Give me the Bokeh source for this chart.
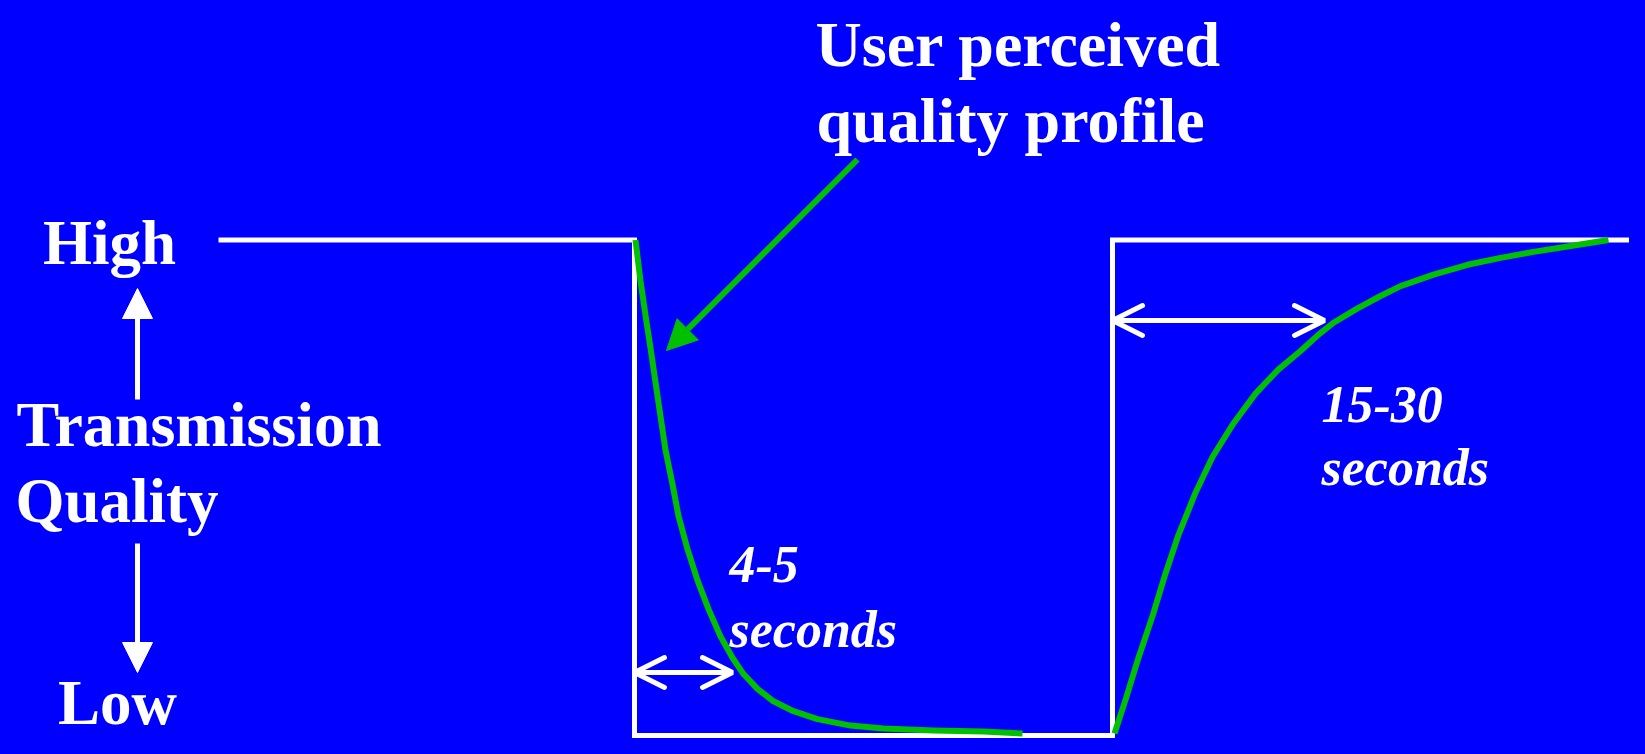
from bokeh.plotting import figure
from bokeh.models import Range1d, Label, Arrow, NormalHead, OpenHead
from bokeh.embed import file_html
from bokeh.resources import INLINE

# ---- data -------------------------------------------------------------
# Transmission quality: step profile (time in arbitrary units, quality 0=Low, 1=High)
trans_t = [218, 634, 634, 1112, 1112, 1642]
trans_q = [1.0, 1.0, 0.0, 0.0, 1.0, 1.0]

# User perceived quality after the drop (fast decay, 4-5 seconds)
drop_t = [635, 640, 645, 650, 655, 660, 665, 672, 678, 687, 697, 708, 720, 732,
          743, 757, 773, 793, 817, 850, 883, 933, 983, 1022]
drop_q = [1.0, 0.917, 0.848, 0.782, 0.713, 0.644, 0.576, 0.507, 0.443, 0.376,
          0.313, 0.255, 0.200, 0.157, 0.124, 0.094, 0.069, 0.049, 0.033, 0.020,
          0.014, 0.010, 0.008, 0.004]

# User perceived quality after recovery (slow rise, 15-30 seconds)
rise_t = [1114, 1125, 1138, 1152, 1165, 1178, 1195, 1212, 1232, 1255, 1278, 1300,
          1318, 1333, 1357, 1380, 1400, 1433, 1467, 1500, 1533, 1567, 1608]
rise_q = [0.004, 0.072, 0.157, 0.241, 0.327, 0.405, 0.490, 0.562, 0.627, 0.690,
          0.739, 0.776, 0.809, 0.833, 0.862, 0.887, 0.907, 0.930, 0.950, 0.964,
          0.976, 0.987, 1.0]

level_labels = ["High", "Low"]
axis_title = ["Transmission", "Quality"]
title_lines = ["User perceived", "quality profile"]
drop_labels = ["4-5", "seconds"]
rise_labels = ["15-30", "seconds"]

# ---- figure -----------------------------------------------------------
W, H = 1629, 738
Y_LOW = 735.0    # canvas y of quality 0
Y_HIGH = 239.5   # canvas y of quality 1
S = Y_LOW - Y_HIGH
top = Y_LOW / S
bottom = (Y_LOW - H) / S

BLUE = "#0000FF"
GREEN = "#00C000"
WHITE = "#FFFFFF"
FONT = "Liberation Serif"


def qy(py):
    """convert a pixel y position (from the top) into the quality scale"""
    return (Y_LOW - py) / S


p = figure(width=W, height=H, x_range=Range1d(0, W), y_range=Range1d(bottom, top),
           output_backend="svg", toolbar_location=None, min_border=0,
           x_axis_type=None, y_axis_type=None,
           background_fill_color=BLUE, border_fill_color=BLUE, outline_line_color=None)
p.grid.visible = False

p.line(x=trans_t, y=trans_q, line_color=WHITE, line_width=5, line_join="miter")
p.line(x=drop_t, y=drop_q, line_color=GREEN, line_width=6, line_join="round")
p.line(x=rise_t, y=rise_q, line_color=GREEN, line_width=6, line_join="round")


def lab(x, baseline, text, size, align="left", style="bold"):
    # compensate the renderer's baseline placement
    y = baseline - 0.22 * size
    p.add_layout(Label(x=x, y=qy(y), text=text, text_font=FONT, text_font_style=style,
                       text_font_size=f"{size}px", text_color=WHITE, text_align=align,
                       text_baseline="alphabetic"))


lab(109, 256, level_labels[0], 63, "center")
lab(117, 716, level_labels[1], 63, "center")
lab(16, 438, axis_title[0], 64, "left")
lab(15, 514, axis_title[1], 63, "left")

lab(815, 58, title_lines[0], 64)
lab(816, 134, title_lines[1], 64)

lab(729, 575, drop_labels[0], 52, style="bold italic")
lab(729, 640, drop_labels[1], 52, style="bold italic")
lab(1321, 415, rise_labels[0], 52, style="bold italic")
lab(1321, 478, rise_labels[1], 52, style="bold italic")

# vertical arrows next to the axis title
for y0, y1 in [(399, 288), (543, 672)]:
    p.add_layout(Arrow(x_start=137, y_start=qy(y0), x_end=137, y_end=qy(y1),
                       line_color=WHITE, line_width=5,
                       end=NormalHead(size=30, fill_color=WHITE, line_color=WHITE, line_width=1)))

# duration double arrows
for x0, x1, y in [(634, 732, 672), (1112, 1324, 320)]:
    p.add_layout(Arrow(x_start=x0, y_start=qy(y), x_end=x1, y_end=qy(y),
                       line_color=WHITE, line_width=5,
                       start=OpenHead(size=30, line_color=WHITE, line_width=5, line_cap="round"),
                       end=OpenHead(size=30, line_color=WHITE, line_width=5, line_cap="round")))

# green pointer arrow
p.add_layout(Arrow(x_start=857, y_start=qy(159), x_end=666, y_end=qy(350),
                   line_color=GREEN, line_width=6,
                   end=NormalHead(size=30, fill_color=GREEN, line_color=GREEN, line_width=1)))

html = file_html(p, INLINE)
html = html.replace("<body>", '<body style="background-color:#0000FF;">', 1)
html = html.replace("<html", '<html style="background-color:#0000FF;"', 1)
open("out.html", "w").write(html)
